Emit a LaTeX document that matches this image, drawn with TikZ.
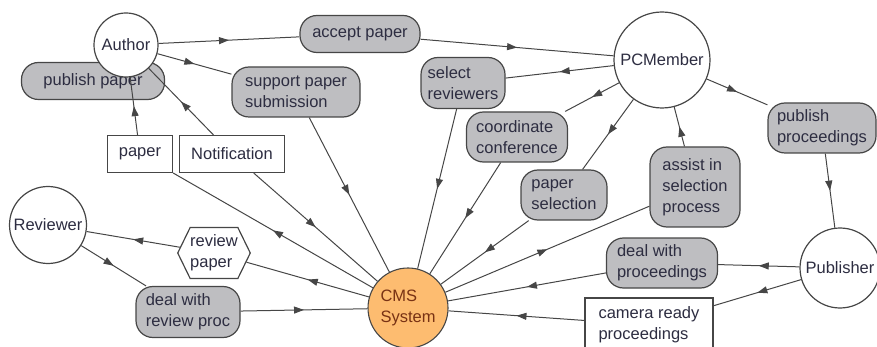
\documentclass[tikz,border=0pt]{standalone}
\usepackage{fontspec}
\setmainfont{Liberation Sans}
\usetikzlibrary{arrows.meta,decorations.markings,shapes.symbols}
\definecolor{edgec}{RGB}{70,70,70}
\definecolor{procfill}{RGB}{190,190,193}
\definecolor{txt}{RGB}{45,45,65}
\definecolor{cmsfill}{RGB}{253,188,112}
\definecolor{cmstxt}{RGB}{120,50,20}
\begin{document}
\begin{tikzpicture}[x=1pt,y=-1pt,
  every node/.style={font=\fontsize{16.5}{21}\selectfont, text=txt},
  actor/.style={circle, draw=edgec, line width=1.2pt, fill=white, inner sep=0pt},
  proc/.style={rectangle, rounded corners=17pt, draw=edgec, line width=1.2pt, fill=procfill, inner sep=0pt, align=left},
  datab/.style={rectangle, draw=edgec, line width=1.1pt, fill=white, inner sep=0pt, align=left},
  cmsnode/.style={circle, draw=edgec, line width=1.1pt, fill=cmsfill, inner sep=0pt, align=left, text=cmstxt},
  hexa/.style={signal, signal to=west and east, signal pointer angle=128, draw=edgec, line width=1.2pt, fill=white, inner sep=0pt, align=left},
  flow/.style={draw=edgec, line width=1pt, postaction={decorate},
    decoration={markings, mark=at position 0.5 with {\arrow{Triangle[length=10pt,width=7pt]}}}}
]
\useasboundingbox (0,0) rectangle (877,347);

\node[proc, minimum width=143pt, minimum height=37pt] (pubpaper) at (93,81) {publish paper};
\node[actor, minimum size=64pt] (author) at (126,45) {Author};
\node[proc, minimum width=120pt, minimum height=37pt] (accept) at (360,34) {accept paper};
\node[actor, minimum size=96pt] (pcm) at (662,60) {PCMember};
\node[proc, minimum width=128pt, minimum height=50pt] (support) at (296,92) {support paper\\submission};
\node[proc, minimum width=84pt, minimum height=51pt] (selrev) at (463,83) {select\\reviewers};
\node[proc, minimum width=101pt, minimum height=50pt] (coord) at (517,137) {coordinate\\conference};
\node[proc, minimum width=86pt, minimum height=50pt] (papsel) at (564,195) {paper\\selection};
\node[proc, minimum width=90pt, minimum height=80pt] (assist) at (695,187) {assist in\\selection\\process};
\node[proc, minimum width=108pt, minimum height=50pt] (pubproc) at (822,128) {publish\\proceedings};
\node[datab, minimum width=65pt, minimum height=37pt] (paper) at (140,154) {paper};
\node[datab, minimum width=105pt, minimum height=37pt] (notif) at (232,154) {Notification};
\node[actor, minimum size=77pt] (reviewer) at (48,225) {Reviewer};
\node[hexa, minimum width=70pt, minimum height=51pt] (revpaper) at (214,253) {review\\paper};
\node[proc, minimum width=104pt, minimum height=51pt] (dealrev) at (188,312) {deal with\\review proc};
\node[cmsnode, minimum size=80pt] (cms) at (408,308) {CMS\\System};
\node[proc, minimum width=111pt, minimum height=50pt] (dealproc) at (662,263) {deal with\\proceedings};
\node[actor, minimum size=80pt] (publisher) at (840,268) {Publisher};
\node[datab, minimum width=128pt, minimum height=54pt] (camera) at (649,325) {camera ready\\proceedings};

\draw[flow] (author) -- (accept);
\draw[flow] (accept) -- (pcm);
\draw[flow] (author) -- (support);
\draw[flow] (support) -- (cms);
\draw[flow] (pcm) -- (selrev);
\draw[flow] (selrev) -- (cms);
\draw[flow] (pcm) -- (coord);
\draw[flow] (coord) -- (cms);
\draw[flow] (pcm) -- (papsel);
\draw[flow] (papsel) -- (cms);
\draw[flow] (assist) -- (pcm);
\draw[flow] (cms) -- (assist);
\draw[flow] (pcm) -- (pubproc);
\draw[flow] (pubproc) -- (publisher);
\draw[flow] (publisher) -- (dealproc);
\draw[flow] (dealproc) -- (cms);
\draw[flow] (publisher) -- (camera);
\draw[flow] (camera) -- (cms);
\draw[flow] (cms) -- (revpaper);
\draw[flow] (revpaper) -- (reviewer);
\draw[flow] (reviewer) -- (dealrev);
\draw[flow] (dealrev) -- (cms);
\draw[flow] (cms) -- (paper);
\draw[flow] (paper) -- (author);
\draw[flow] (notif) -- (author);
\draw[flow] (notif) -- (cms);
\end{tikzpicture}
\end{document}
